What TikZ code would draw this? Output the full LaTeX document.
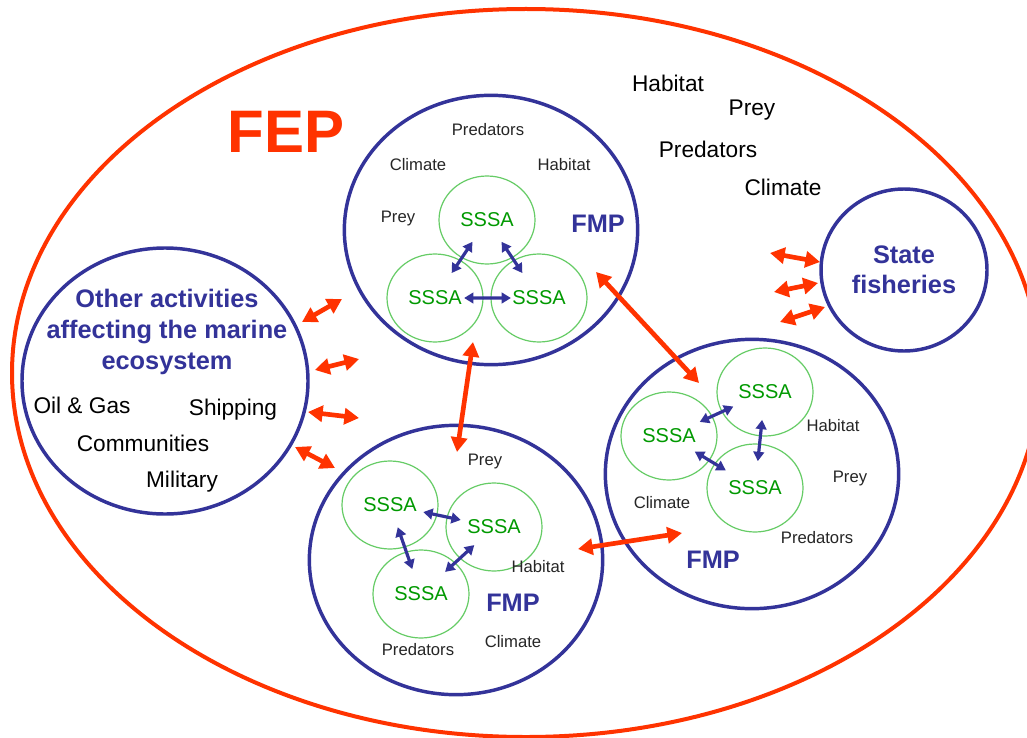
\documentclass[tikz,border=0pt]{standalone}
\usepackage{fontspec}
\setmainfont{Liberation Sans}
\usetikzlibrary{shapes.geometric,arrows.meta,calc}

\definecolor{fepred}{HTML}{FF3300}
\definecolor{fmpblue}{HTML}{333399}
\definecolor{sssagreen}{HTML}{009900}
\definecolor{ringgreen}{HTML}{66CC66}

\tikzset{
  fmp/.style={ellipse,draw=fmpblue,line width=2.6pt,minimum width=220pt,minimum height=202pt,inner sep=0pt},
  sssa/.style={ellipse,draw=ringgreen,line width=0.9pt,minimum width=72pt,minimum height=66pt,inner sep=0pt,
    text=sssagreen,font=\fontsize{15}{18}\selectfont},
  driver/.style={text=black!85,font=\fontsize{12.5}{15}\selectfont},
  sector/.style={font=\fontsize{17}{20}\selectfont},
  headline/.style={text=fmpblue,align=center,font=\bfseries\fontsize{19}{23}\selectfont},
  fmplink/.style={draw=fepred,line width=3.5pt,{Triangle[length=11pt,width=12pt]}-{Triangle[length=11pt,width=12pt]}},
  sssalink/.style={draw=fmpblue,line width=2.4pt,{Triangle[length=7pt,width=8pt]}-{Triangle[length=7pt,width=8pt]}}
}

\begin{document}
\begin{tikzpicture}[x=0.75pt,y=-0.75pt]
\useasboundingbox[fill=white] (0,0) rectangle (1027,738);

% the whole plan
\node[ellipse,draw=fepred,line width=3pt,minimum width=771pt,minimum height=546pt] (fep) at (526,373) {};
\node[text=fepred,font=\bfseries\fontsize{45}{50}\selectfont] (feplabel) at (286,132) {FEP};

% other activities and state fisheries
\node[fmp,minimum width=214.5pt,minimum height=199.5pt] (other) at (165,381) {};
\node[headline,font=\bfseries\fontsize{19}{23}\selectfont] (othertitle) at (167,332)
  {Other activities\\affecting the marine\\ecosystem};
\node[sector] (oil) at (82,405) {Oil \& Gas};
\node[sector] (ship) at (233,410) {Shipping};
\node[sector] (comm) at (143,443) {Communities};
\node[sector] (mil) at (182,482) {Military};

\node[fmp,minimum width=124.5pt,minimum height=121.5pt,headline,font=\bfseries\fontsize{19}{22.5}\selectfont]
  (state) at (904,270) {State\\fisheries};

\node[sector] (hab0) at (668,83) {Habitat};
\node[sector] (prey0) at (752,110) {Prey};
\node[sector] (pred0) at (708,149) {Predators};
\node[sector] (clim0) at (783,187) {Climate};

% fmp A (top)
\node[fmp] (fmpA) at (491,230) {};
\node[sssa] (a1) at (487,220) {SSSA};
\node[sssa] (a2) at (435,298) {SSSA};
\node[sssa] (a3) at (539,298) {SSSA};
\node[driver] (predA) at (488,130) {Predators};
\node[driver] (climA) at (418,165) {Climate};
\node[driver] (habA) at (564,165) {Habitat};
\node[driver] (preyA) at (398,218) {Prey};
\node[headline] (nameA) at (598,224) {FMP};
\draw[sssalink] ($(a1)!.28!(a2)$) -- ($(a1)!.68!(a2)$);
\draw[sssalink] ($(a1)!.28!(a3)$) -- ($(a1)!.68!(a3)$);
\draw[sssalink] ($(a2)!.28!(a3)$) -- ($(a2)!.73!(a3)$);

% fmp B (right)
\node[fmp] (fmpB) at (752,474) {};
\node[sssa] (b1) at (765,392) {SSSA};
\node[sssa] (b2) at (669,436) {SSSA};
\node[sssa] (b3) at (755,488) {SSSA};
\node[driver] (habB) at (833,426) {Habitat};
\node[driver] (preyB) at (850,478) {Prey};
\node[driver] (climB) at (662,503) {Climate};
\node[driver] (predB) at (817,538) {Predators};
\node[headline] (nameB) at (713,560) {FMP};
\draw[sssalink] ($(b1)!.33!(b2)$) -- ($(b1)!.68!(b2)$);
\draw[sssalink] ($(b1)!.29!(b3)$) -- ($(b1)!.72!(b3)$);
\draw[sssalink] ($(b2)!.3!(b3)$) -- ($(b2)!.66!(b3)$);

% fmp C (bottom)
\node[fmp] (fmpC) at (456,560) {};
\node[sssa] (c1) at (390,505) {SSSA};
\node[sssa] (c2) at (494,527) {SSSA};
\node[sssa] (c3) at (421,594) {SSSA};
\node[driver] (preyC) at (485,461) {Prey};
\node[driver] (habC) at (538,567) {Habitat};
\node[headline] (nameC) at (513,603) {FMP};
\node[driver] (climC) at (513,642) {Climate};
\node[driver] (predC) at (418,650) {Predators};
\draw[sssalink] ($(c1)!.32!(c2)$) -- ($(c1)!.68!(c2)$);
\draw[sssalink] ($(c1)!.25!(c3)$) -- ($(c1)!.72!(c3)$);
\draw[sssalink] ($(c2)!.27!(c3)$) -- ($(c2)!.67!(c3)$);

% links between the plans
\coordinate (ab1) at (473,342);
\coordinate (ab2) at (457,452);
\coordinate (ac1) at (596,272);
\coordinate (ac2) at (699,383);
\coordinate (bc1) at (578,549);
\coordinate (bc2) at (682,533);
\draw[fmplink] (ab1) -- (ab2);
\draw[fmplink] (ac1) -- (ac2);
\draw[fmplink] (bc1) -- (bc2);

\coordinate (o1) at (302,322);
\coordinate (o1e) at (342,299);
\coordinate (o2) at (315,370);
\coordinate (o2e) at (359,359);
\coordinate (o3) at (308,412);
\coordinate (o3e) at (359,418);
\coordinate (o4) at (295,447);
\coordinate (o4e) at (335,468);
\draw[fmplink] (o1) -- (o1e);
\draw[fmplink] (o2) -- (o2e);
\draw[fmplink] (o3) -- (o3e);
\draw[fmplink] (o4) -- (o4e);

\coordinate (s1) at (820,262);
\coordinate (s1e) at (770,253);
\coordinate (s2) at (818,283);
\coordinate (s2e) at (774,292);
\coordinate (s3) at (825,307);
\coordinate (s3e) at (780,322);
\draw[fmplink] (s1) -- (s1e);
\draw[fmplink] (s2) -- (s2e);
\draw[fmplink] (s3) -- (s3e);
\end{tikzpicture}
\end{document}
